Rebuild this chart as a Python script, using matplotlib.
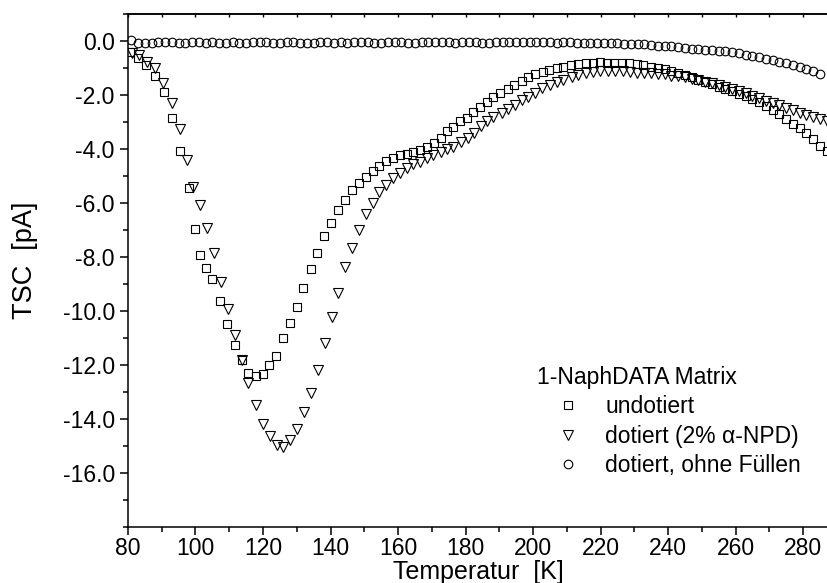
import matplotlib
matplotlib.use("Agg")
from matplotlib import pyplot as plt
from matplotlib.ticker import MultipleLocator, FormatStrFormatter, FixedLocator

plt.rcParams['font.family'] = ['Liberation Sans', 'DejaVu Sans']
plt.rcParams['axes.unicode_minus'] = False

# undotiert (squares)
sq_T = [80.6, 83.1, 85.4, 87.9, 90.6, 93.1, 95.4, 98.1,
        99.8, 101.3, 103.0, 105.0, 107.3, 109.4, 111.6, 113.7, 115.6, 117.8,
        119.9, 121.9, 123.9, 125.8, 128.0, 130.0, 131.9, 134.1, 136.1, 138.2,
        140.1, 142.1, 144.3,
        146.3, 148.4, 150.5, 152.5, 154.4, 156.4, 158.4, 160.6, 162.6, 164.5,
        166.5, 168.7, 170.7, 172.6, 174.4, 176.4, 178.4, 180.4, 182.3,
        184.3, 186.3, 188.2, 190.2, 192.5, 194.5, 196.7, 198.6, 200.6, 202.9,
        204.8, 207.0, 209.0, 211.3, 213.4, 215.6, 217.9, 219.9, 222.0, 224.0,
        226.3, 228.4, 230.7, 232.7, 235.0,
        237, 239, 241, 243, 245, 247, 249, 251, 253, 255, 257, 259, 261,
        263, 265, 267, 269, 271, 273, 275, 277, 279, 281, 283, 285, 287]
sq_y = [-0.40, -0.62, -0.89, -1.29, -1.90, -2.85, -4.08, -5.43,
        -6.95, -7.91, -8.40, -8.83, -9.64, -10.48, -11.26, -11.82, -12.31, -12.40,
        -12.33, -12.00, -11.66, -11.01, -10.46, -9.86, -9.14, -8.46, -7.84, -7.24,
        -6.73, -6.25, -5.90,
        -5.50, -5.26, -5.04, -4.81, -4.64, -4.45, -4.33, -4.23, -4.17, -4.12,
        -4.05, -3.93, -3.79, -3.60, -3.35, -3.17, -2.98, -2.85, -2.62,
        -2.44, -2.25, -2.09, -1.94, -1.79, -1.63, -1.47, -1.35, -1.23, -1.16,
        -1.07, -1.01, -0.95, -0.89, -0.85, -0.83, -0.83, -0.77, -0.80, -0.80,
        -0.83, -0.83, -0.85, -0.89, -0.95,
        -1.00, -1.05, -1.10, -1.17, -1.25, -1.33, -1.43, -1.52, -1.60, -1.69,
        -1.78, -1.87, -1.96, -2.05, -2.15, -2.27, -2.40, -2.55, -2.70, -2.90,
        -3.07, -3.22, -3.40, -3.62, -3.88, -4.08]

# dotiert 2% alpha-NPD (triangles)
tr_T = [81.1, 83.3, 85.5, 88.0, 90.5, 92.9, 95.4, 97.4, 99.2,
        101.3, 103.3, 105.5, 107.6, 109.7, 111.7, 113.7, 115.6, 117.8, 119.9,
        122.1, 124.1, 126.0, 128.0, 130.2, 132.1, 134.1, 136.2, 138.4, 140.4,
        142.3, 144.3, 146.4, 148.4, 150.5, 152.5, 154.5, 156.4, 158.6, 160.6,
        162.6, 164.5, 166.5, 168.5, 170.5, 172.7, 174.4, 176.4, 178.7, 180.7,
        182.6, 184.6, 186.5, 188.2, 190.7, 192.7, 194.7, 196.7, 198.6, 200.6,
        202.6, 205.0, 207.0, 209.0, 211.5, 213.4, 215.7, 217.9, 219.9, 222.3,
        224.3, 226.6, 228.7, 230.7, 233.0, 235,
        237, 239, 241, 243, 245, 247, 249, 251, 253, 255, 257, 259, 261,
        263, 265, 267, 269, 271, 273, 275, 277, 279, 281, 283, 285, 287]
tr_y = [-0.43, -0.52, -0.77, -1.01, -1.55, -2.31, -3.26, -4.41, -5.40,
        -6.08, -6.92, -7.87, -8.92, -9.94, -10.90, -11.80, -12.66, -13.49, -14.17,
        -14.64, -14.97, -15.04, -14.76, -14.36, -13.74, -13.04, -12.17, -11.18, -10.24,
        -9.33, -8.37, -7.68, -7.01, -6.41, -5.99, -5.59, -5.34, -5.09, -4.90,
        -4.72, -4.57, -4.47, -4.35, -4.23, -4.10, -4.01, -3.92, -3.73, -3.61,
        -3.42, -3.15, -2.95, -2.81, -2.68, -2.50, -2.37, -2.19, -2.06, -1.94,
        -1.75, -1.63, -1.51, -1.45, -1.35, -1.26, -1.20, -1.14, -1.10, -1.10,
        -1.10, -1.10, -1.14, -1.17, -1.18, -1.20,
        -1.21, -1.24, -1.28, -1.31, -1.35, -1.40, -1.45, -1.51, -1.57, -1.63,
        -1.70, -1.78, -1.86, -1.94, -2.02, -2.12, -2.22, -2.30, -2.38, -2.47,
        -2.56, -2.66, -2.75, -2.82, -2.89, -2.96]

# dotiert, ohne Fuellen (circles)
ci_T = [81, 83, 85, 87, 89, 91, 93, 95, 97, 99,
        101, 103, 105, 107, 109, 111, 113, 115, 117, 119,
        121, 123, 125, 127, 129, 131, 133, 135, 137, 139,
        141, 143, 145, 147, 149, 151, 153, 155, 157, 159,
        161, 163, 165, 167, 169, 171, 173, 175, 177, 179,
        181, 183, 185, 187, 189, 191, 193, 195, 197, 199,
        201, 203, 205, 207, 209, 211, 213, 215, 217, 219,
        221, 223, 225, 227, 229, 231, 233, 235, 237, 239,
        241, 243, 245, 247, 249, 251, 253, 255, 257, 259,
        261, 263, 265, 267, 269, 271, 273, 275, 277, 279,
        281, 283, 285]
ci_y = [0.02, -0.07, -0.09, -0.08, -0.05, -0.03, -0.05, -0.08, -0.07, -0.05,
        -0.05, -0.06, -0.04, -0.08, -0.06, -0.05, -0.06, -0.06, -0.04, -0.03,
        -0.05, -0.08, -0.08, -0.04, -0.03, -0.06, -0.09, -0.07, -0.04, -0.05,
        -0.06, -0.05, -0.06, -0.04, -0.04, -0.05, -0.06, -0.07, -0.05, -0.02,
        -0.05, -0.07, -0.06, -0.05, -0.05, -0.05, -0.04, -0.05, -0.06, -0.05,
        -0.04, -0.02, -0.06, -0.07, -0.05, -0.03, -0.02, -0.05, -0.03, -0.02,
        -0.04, -0.05, -0.05, -0.06, -0.05, -0.05, -0.06, -0.06, -0.07, -0.06,
        -0.07, -0.08, -0.09, -0.10, -0.10, -0.11, -0.12, -0.14, -0.17, -0.18,
        -0.20, -0.22, -0.26, -0.28, -0.30, -0.32, -0.34, -0.36, -0.38, -0.42,
        -0.46, -0.50, -0.55, -0.60, -0.65, -0.70, -0.76, -0.82, -0.88, -0.95,
        -1.03, -1.12, -1.22]

labels = ['undotiert', 'dotiert (2% \u03b1-NPD)', 'dotiert, ohne F\u00fcllen']
legend_title = '1-NaphDATA Matrix'
x_major = [80, 100, 120, 140, 160, 180, 200, 220, 240, 260, 280]
y_major = [0, -2, -4, -6, -8, -10, -12, -14, -16]

fig = plt.figure(figsize=(8.28, 5.83), dpi=100)
ax = fig.add_axes([128 / 828, 56 / 583, 700 / 828, 513 / 583])

mk = dict(linestyle='none', mfc='none', mec='black', mew=0.8)
h1, = ax.plot(sq_T, sq_y, marker='s', markersize=6.0, **mk)
h2, = ax.plot(tr_T, tr_y, marker='v', markersize=6.8, **mk)
h3, = ax.plot(ci_T, ci_y, marker='o', markersize=6.2, **mk)

ax.set_xlim(80, 80 + 700 / 3.375)
ax.set_ylim(-18, 1)

ax.xaxis.set_major_locator(FixedLocator(x_major))
ax.xaxis.set_minor_locator(MultipleLocator(10))
ax.yaxis.set_major_locator(FixedLocator(y_major))
ax.yaxis.set_minor_locator(MultipleLocator(1))
ax.yaxis.set_major_formatter(FormatStrFormatter('%.1f'))

ax.spines['right'].set_visible(False)
for s in ['left', 'bottom', 'top']:
    ax.spines[s].set_linewidth(1.1)

ax.tick_params(axis='both', which='major', direction='out', length=5.5,
               width=1.1, labelsize=16.5, pad=4)
ax.tick_params(axis='x', which='major', pad=1.5)
ax.tick_params(axis='both', which='minor', direction='out', length=3.3,
               width=1.1)
ax.tick_params(axis='y', which='both', right=False)
# short inward ticks on the top edge
top = ax.secondary_xaxis('top')
top.set_xticks(x_major)
top.xaxis.set_minor_locator(MultipleLocator(10))
top.tick_params(which='both', direction='in', length=2.5, width=1.0,
                labeltop=False)
top.spines['top'].set_linewidth(1.1)

ax.set_xlabel('Temperatur  [K]', fontsize=18)
ax.set_ylabel('TSC  [pA]', fontsize=19.5)
ax.xaxis.set_label_coords(0.5, -0.0645)
ax.yaxis.set_label_coords(-0.128, 0.52)

leg = ax.legend([h1, h2, h3], labels, title=legend_title,
                loc='upper left', bbox_to_anchor=(537 / 828, 1 - 366 / 583),
                bbox_transform=fig.transFigure, frameon=False,
                fontsize=16.5, title_fontsize=16.5, alignment='left',
                handlelength=2.7, handletextpad=0.28, labelspacing=0.28,
                borderpad=0, borderaxespad=0)

fig.savefig('out.png', dpi=100)
